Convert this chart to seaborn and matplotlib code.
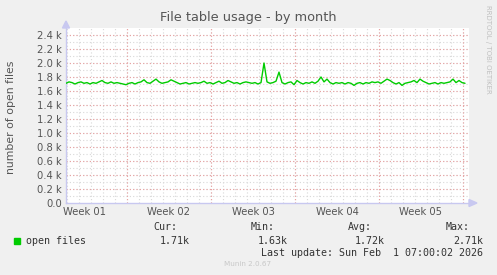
import numpy as np
import pandas as pd
import matplotlib
matplotlib.use("Agg")
import matplotlib.pyplot as plt
import seaborn as sns

# ---- data ----
step_days = 0.25
open_files_k = [
    1.71, 1.73, 1.72, 1.70, 1.72, 1.73, 1.71, 1.72, 1.70, 1.72,
    1.71, 1.73, 1.75, 1.72, 1.71, 1.73, 1.71, 1.72, 1.71, 1.70,
    1.69, 1.71, 1.72, 1.70, 1.72, 1.73, 1.76, 1.72, 1.71, 1.74,
    1.77, 1.73, 1.71, 1.72, 1.73, 1.76, 1.74, 1.72, 1.70, 1.71,
    1.72, 1.70, 1.71, 1.72, 1.71, 1.72, 1.74, 1.71, 1.72, 1.70,
    1.72, 1.74, 1.71, 1.72, 1.75, 1.73, 1.71, 1.72, 1.70, 1.72,
    1.73, 1.72, 1.71, 1.72, 1.70, 1.72, 2.00, 1.73, 1.71, 1.72,
    1.74, 1.87, 1.72, 1.70, 1.72, 1.73, 1.69, 1.75, 1.72, 1.70,
    1.72, 1.71, 1.73, 1.71, 1.74, 1.80, 1.73, 1.77, 1.72, 1.70,
    1.72, 1.71, 1.72, 1.70, 1.72, 1.71, 1.68, 1.71, 1.72, 1.70,
    1.72, 1.71, 1.73, 1.72, 1.73, 1.71, 1.74, 1.77, 1.75, 1.72,
    1.70, 1.72, 1.68, 1.71, 1.72, 1.73, 1.75, 1.72, 1.77, 1.74,
    1.72, 1.70, 1.71, 1.72, 1.70, 1.72, 1.71, 1.72, 1.73, 1.77,
    1.72, 1.75, 1.72, 1.71,
]
week_labels = ["Week 01", "Week 02", "Week 03", "Week 04", "Week 05"]
y_ticks = [0, 200, 400, 600, 800, 1000, 1200, 1400, 1600, 1800, 2000, 2200, 2400]
legend_name = "open files"
stat_names = ["Cur:", "Min:", "Avg:", "Max:"]
stat_values = ["1.71k", "1.63k", "1.72k", "2.71k"]
last_update = "Last update: Sun Feb  1 07:00:02 2026"

df = pd.DataFrame({
    "day": np.arange(len(open_files_k)) * step_days,
    "files": np.array(open_files_k) * 1000,
})

# ---- figure ----
sns.set_theme(style="white")
plt.rcParams["font.family"] = ["DejaVu Sans"]
W, H = 497, 275
fig = plt.figure(figsize=(W / 100, H / 100), dpi=100, facecolor="#F0F0F0")

px_left, px_right, px_top, px_bottom = 66, 469, 28, 203
ax = fig.add_axes([px_left / W, 1 - px_bottom / H,
                   (px_right - px_left) / W, (px_bottom - px_top) / H])
ax.set_facecolor("white")

xmax = (px_right - px_left) / 12.0
ax.set_xlim(0, xmax)
ax.set_ylim(0, 2500)

# grid
minor_col = "#D8D8D8"
major_col = "#E9A0A0"
for d in np.arange(0.08, xmax, 1.0):
    ax.axvline(d, color=minor_col, lw=0.8, ls=(0, (1, 2)), zorder=1)
for v in range(100, 2500, 100):
    ax.axhline(v, color=minor_col, lw=0.8, ls=(0, (1, 2)), zorder=1)
for d in np.arange(5.08, xmax, 7.0):
    ax.axvline(d, color=major_col, lw=0.8, ls=(0, (1, 2)), zorder=2)
for v in y_ticks[1:]:
    ax.axhline(v, color=major_col, lw=0.8, ls=(0, (1, 2)), zorder=2)

sns.lineplot(data=df, x="day", y="files", ax=ax, color="#00CC00", lw=1.0,
             zorder=5, legend=False)

# ticks
txt_col = "#555555"
ax.set_yticks(y_ticks)
ax.set_yticklabels(["0.0"] + [f"{v/1000:.1f} k" for v in y_ticks[1:]],
                   fontsize=7.2, color=txt_col)
ax.set_xticks([1.58 + 7 * k for k in range(len(week_labels))])
ax.set_xticklabels(week_labels, fontsize=7.2, color=txt_col)
ax.tick_params(axis="both", length=0, pad=3)
ax.set_xlabel("")
ax.set_ylabel("number of open files", fontsize=7.8, color=txt_col)
ax.yaxis.set_label_coords((16 - px_left) / (px_right - px_left), 0.49)
for s in ["top", "right"]:
    ax.spines[s].set_visible(False)
axis_col = "#C8C8F0"
ax.spines["left"].set_color(axis_col)
ax.spines["bottom"].set_color(axis_col)
ax.spines["left"].set_linewidth(1)
ax.spines["bottom"].set_linewidth(1)

# axis arrows (figure coords)
fig.patches.append(matplotlib.patches.Polygon(
    [[(px_left - 3.5) / W, 1 - 28 / H], [(px_left + 3.5) / W, 1 - 28 / H],
     [px_left / W, 1 - 21 / H]], closed=True, transform=fig.transFigure,
    color=axis_col, zorder=10))
fig.patches.append(matplotlib.patches.Polygon(
    [[469 / W, 1 - 199.5 / H], [469 / W, 1 - 206.5 / H],
     [477 / W, 1 - 203 / H]], closed=True, transform=fig.transFigure,
    color=axis_col, zorder=10))
fig.add_artist(matplotlib.lines.Line2D([469 / W, 470 / W], [1 - 203 / H, 1 - 203 / H],
                                       color=axis_col, lw=1))

fig.text(248 / W, 1 - 18 / H, "File table usage - by month", ha="center",
         va="center", fontsize=9.3, color=txt_col)
fig.text(488 / W, 1 - 5 / H, "RRDTOOL / TOBI OETIKER", rotation=270,
         ha="center", va="top", fontsize=5, color="#C0C0C0")

# legend block
mono = "DejaVu Sans Mono"
fs = 7.2
fig.patches.append(matplotlib.patches.Rectangle(
    (14 / W, 1 - 243.5 / H), 6 / W, 6 / H, transform=fig.transFigure,
    color="#00CC00"))
fig.text(26 / W, 1 - 240.5 / H, legend_name, family=mono, fontsize=fs,
         color="#333333", va="center")
head_right = [177, 275, 372, 470]
val_right = [190, 288, 385, 483]
for n, v, hr, vr in zip(stat_names, stat_values, head_right, val_right):
    fig.text(hr / W, 1 - 227.5 / H, n, family=mono, fontsize=fs,
             color="#333333", ha="right", va="center")
    fig.text(vr / W, 1 - 240.5 / H, v, family=mono, fontsize=fs,
             color="#333333", ha="right", va="center")
fig.text(483 / W, 1 - 252.5 / H, last_update, family=mono, fontsize=fs,
         color="#333333", ha="right", va="center")
fig.text(248 / W, 1 - 264 / H, "Munin 2.0.67", fontsize=5.2, color="#C8C8C8",
         ha="center", va="center")

fig.savefig("out.png", dpi=100, facecolor=fig.get_facecolor())
